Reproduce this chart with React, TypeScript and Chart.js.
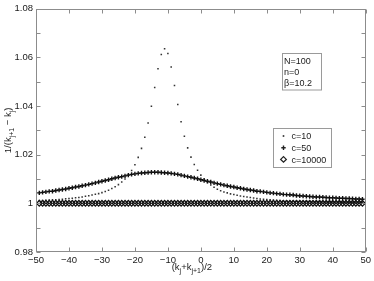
import React, { useEffect, useRef } from 'react';
import { Chart, registerables } from 'chart.js';

Chart.register(...registerables);

// x positions: (k_j + k_{j+1}) / 2
const kMid = [
  -49, -48, -47, -46, -45, -44, -43, -42, -41, -40,
  -39, -38, -37, -36, -35, -34, -33, -32, -31, -30,
  -29, -28, -27, -26, -25, -24, -23, -22, -21, -20,
  -19, -18, -17, -16, -15, -14, -13, -12, -11, -10,
  -9, -8, -7, -6, -5, -4, -3, -2, -1, 0,
  1, 2, 3, 4, 5, 6, 7, 8, 9, 10,
  11, 12, 13, 14, 15, 16, 17, 18, 19, 20,
  21, 22, 23, 24, 25, 26, 27, 28, 29, 30,
  31, 32, 33, 34, 35, 36, 37, 38, 39, 40,
  41, 42, 43, 44, 45, 46, 47, 48, 49,
];

const c10 = [
  1.0012, 1.0012, 1.0013, 1.0014, 1.0015, 1.0015, 1.0016, 1.0017, 1.0019, 1.0020,
  1.0021, 1.0023, 1.0024, 1.0026, 1.0029, 1.0031, 1.0034, 1.0037, 1.0040, 1.0044,
  1.0049, 1.0054, 1.0061, 1.0068, 1.0077, 1.0088, 1.0100, 1.0116, 1.0135, 1.0159,
  1.0189, 1.0226, 1.0272, 1.0330, 1.0399, 1.0476, 1.0553, 1.0612, 1.0635, 1.0616,
  1.0560, 1.0484, 1.0406, 1.0335, 1.0276, 1.0228, 1.0190, 1.0160, 1.0136, 1.0116,
  1.0100, 1.0086, 1.0075, 1.0066, 1.0058, 1.0052, 1.0047, 1.0043, 1.0039, 1.0036,
  1.0033, 1.0030, 1.0028, 1.0026, 1.0024, 1.0022, 1.0020, 1.0018, 1.0017, 1.0016,
  1.0015, 1.0014, 1.0013, 1.0012, 1.0011, 1.0011, 1.0010, 1.0010, 1.0009, 1.0009,
  1.0008, 1.0008, 1.0008, 1.0007, 1.0007, 1.0007, 1.0007, 1.0006, 1.0006, 1.0006,
  1.0006, 1.0006, 1.0005, 1.0005, 1.0005, 1.0005, 1.0005, 1.0005, 1.0004,
];

const c50 = [
  1.0043, 1.0045, 1.0047, 1.0049, 1.0050, 1.0053, 1.0055, 1.0057, 1.0059, 1.0062,
  1.0064, 1.0067, 1.0069, 1.0072, 1.0075, 1.0078, 1.0081, 1.0084, 1.0088, 1.0091,
  1.0094, 1.0097, 1.0101, 1.0104, 1.0107, 1.0110, 1.0113, 1.0116, 1.0119, 1.0121,
  1.0123, 1.0125, 1.0126, 1.0127, 1.0128, 1.0128, 1.0128, 1.0127, 1.0126, 1.0125,
  1.0123, 1.0121, 1.0119, 1.0116, 1.0113, 1.0110, 1.0107, 1.0104, 1.0101, 1.0097,
  1.0094, 1.0091, 1.0088, 1.0084, 1.0081, 1.0078, 1.0075, 1.0072, 1.0069, 1.0067,
  1.0064, 1.0062, 1.0059, 1.0057, 1.0055, 1.0053, 1.0050, 1.0049, 1.0047, 1.0045,
  1.0043, 1.0042, 1.0040, 1.0039, 1.0037, 1.0036, 1.0035, 1.0034, 1.0032, 1.0031,
  1.0030, 1.0029, 1.0028, 1.0027, 1.0026, 1.0026, 1.0025, 1.0024, 1.0023, 1.0023,
  1.0022, 1.0021, 1.0021, 1.0020, 1.0020, 1.0019, 1.0018, 1.0018, 1.0017,
];

const c10000 = [
  1, 1, 1, 1, 1, 1, 1, 1, 1, 1,
  1, 1, 1, 1, 1, 1, 1, 1, 1, 1,
  1, 1, 1, 1, 1, 1, 1, 1, 1, 1,
  1, 1, 1, 1, 1, 1, 1, 1, 1, 1,
  1, 1, 1, 1, 1, 1, 1, 1, 1, 1,
  1, 1, 1, 1, 1, 1, 1, 1, 1, 1,
  1, 1, 1, 1, 1, 1, 1, 1, 1, 1,
  1, 1, 1, 1, 1, 1, 1, 1, 1, 1,
  1, 1, 1, 1, 1, 1, 1, 1, 1, 1,
  1, 1, 1, 1, 1, 1, 1, 1, 1,
];

const seriesNames = ['c=10', 'c=50', 'c=10000'];
const paramLines = ['N=100', 'n=0', 'β=10.2'];

const FAMILY = '"Liberation Sans", Arial, Helvetica, sans-serif';
const TEXT = '#1a1a1a';
const AXIS = '#8c8c8c';

type Part = { t: string; sub?: boolean };

function richWidth(ctx: CanvasRenderingContext2D, parts: Part[], main: string, sub: string) {
  let w = 0;
  for (const p of parts) {
    ctx.font = p.sub ? sub : main;
    w += ctx.measureText(p.t).width;
  }
  return w;
}

function drawRich(ctx: CanvasRenderingContext2D, parts: Part[], x: number, y: number, main: string, sub: string) {
  let cx = x;
  for (const p of parts) {
    ctx.font = p.sub ? sub : main;
    ctx.fillText(p.t, cx, p.sub ? y + 3 : y);
    cx += ctx.measureText(p.t).width;
  }
}

function marker(ctx: CanvasRenderingContext2D, kind: number, x: number, y: number) {
  ctx.save();
  ctx.fillStyle = '#222';
  ctx.strokeStyle = '#222';
  if (kind === 0) {
    ctx.fillRect(x - 0.8, y - 0.8, 1.6, 1.6);
  } else if (kind === 1) {
    ctx.lineWidth = 1.4;
    ctx.beginPath();
    ctx.moveTo(x - 2.2, y);
    ctx.lineTo(x + 2.2, y);
    ctx.moveTo(x, y - 2.2);
    ctx.lineTo(x, y + 2.2);
    ctx.stroke();
  } else {
    ctx.lineWidth = 1.3;
    ctx.beginPath();
    ctx.moveTo(x, y - 2.8);
    ctx.lineTo(x + 2.8, y);
    ctx.lineTo(x, y + 2.8);
    ctx.lineTo(x - 2.8, y);
    ctx.closePath();
    ctx.stroke();
  }
  ctx.restore();
}

const decorPlugin = {
  id: 'decor',
  afterDraw(chart: any) {
    const { ctx, chartArea: a, scales } = chart;
    const xs = scales.x;
    const ys = scales.y;
    ctx.save();
    // frame
    ctx.strokeStyle = AXIS;
    ctx.lineWidth = 1;
    const L = Math.round(a.left) + 0.5;
    const R = Math.round(a.right) - 0.5;
    const T = Math.round(a.top) + 0.5;
    const B = Math.round(a.bottom) - 0.5;
    ctx.strokeRect(L, T, R - L, B - T);
    // inward ticks
    ctx.beginPath();
    const tl = 4;
    for (const t of xs.ticks) {
      const px = Math.round(xs.getPixelForValue(t.value)) + 0.5;
      ctx.moveTo(px, B);
      ctx.lineTo(px, B - tl);
      ctx.moveTo(px, T);
      ctx.lineTo(px, T + tl);
    }
    for (const t of ys.ticks) {
      const py = Math.round(ys.getPixelForValue(t.value)) + 0.5;
      ctx.moveTo(L, py);
      ctx.lineTo(L + tl, py);
      ctx.moveTo(R, py);
      ctx.lineTo(R - tl, py);
    }
    ctx.stroke();

    const mainFont = `9.5px ${FAMILY}`;
    const subFont = `7px ${FAMILY}`;
    ctx.fillStyle = TEXT;
    ctx.textBaseline = 'alphabetic';
    ctx.textAlign = 'left';

    // x title
    const xParts: Part[] = [
      { t: '(k' }, { t: 'j', sub: true }, { t: '+k' }, { t: 'j+1', sub: true }, { t: ')/2' },
    ];
    const xw = richWidth(ctx, xParts, mainFont, subFont);
    const xcx = (a.left + a.right) / 2 - 9;
    drawRich(ctx, xParts, xcx - xw / 2, 270, mainFont, subFont);

    // y title
    const yParts: Part[] = [
      { t: '1/(k' }, { t: 'j+1', sub: true }, { t: ' \u2212 k' }, { t: 'j', sub: true }, { t: ')' },
    ];
    const yw = richWidth(ctx, yParts, mainFont, subFont);
    ctx.save();
    ctx.translate(11, (a.top + a.bottom) / 2);
    ctx.rotate(-Math.PI / 2);
    drawRich(ctx, yParts, -yw / 2, 0, mainFont, subFont);
    ctx.restore();

    // parameter box
    const f9 = `9px ${FAMILY}`;
    ctx.font = f9;
    ctx.strokeStyle = '#9a9a9a';
    ctx.lineWidth = 1;
    ctx.fillStyle = '#fff';
    ctx.fillRect(282.5, 53.5, 39, 36.5);
    ctx.strokeRect(282.5, 53.5, 39, 36.5);
    ctx.fillStyle = TEXT;
    paramLines.forEach((s, i) => {
      ctx.fillText(s, 284, 63.5 + i * 11);
    });

    // series legend
    ctx.fillStyle = '#fff';
    ctx.fillRect(273.5, 128.5, 58, 39);
    ctx.strokeRect(273.5, 128.5, 58, 39);
    ctx.fillStyle = TEXT;
    seriesNames.forEach((s, i) => {
      const y = 136 + i * 11.7;
      marker(ctx, i, 283.5, y);
      ctx.font = f9;
      ctx.fillStyle = TEXT;
      ctx.fillText(s, 291.5, y + 3.3);
    });
    ctx.restore();
  },
};

export default function App() {
  const ref = useRef<HTMLCanvasElement | null>(null);

  useEffect(() => {
    if (!ref.current) return;
    const mk = (ys: number[]) => kMid.map((x, i) => ({ x, y: ys[i] }));
    const chart = new Chart(ref.current, {
      type: 'scatter',
      data: {
        datasets: [
          {
            label: seriesNames[2],
            data: mk(c10000),
            pointStyle: 'rectRot',
            pointRadius: 2.8,
            borderWidth: 1.3,
            borderColor: '#111',
            backgroundColor: 'rgba(0,0,0,0)',
          },
          {
            label: seriesNames[1],
            data: mk(c50),
            pointStyle: 'cross',
            pointRadius: 2.2,
            borderWidth: 1.4,
            borderColor: '#111',
            backgroundColor: '#111',
          },
          {
            label: seriesNames[0],
            data: mk(c10),
            pointStyle: 'rect',
            pointRadius: 1.1,
            borderWidth: 0,
            borderColor: '#333',
            backgroundColor: '#333',
          },
        ],
      },
      options: {
        animation: false,
        responsive: false,
        devicePixelRatio: 1,
        layout: { padding: { left: 0, right: 5, top: 5, bottom: 0 } },
        plugins: {
          legend: { display: false },
          tooltip: { enabled: false },
          title: { display: false },
        },
        scales: {
          x: {
            type: 'linear',
            min: -50,
            max: 50,
            afterFit: (s: any) => { s.height = 29; },
            grid: { display: false, drawTicks: false },
            border: { display: false },
            ticks: {
              stepSize: 10,
              autoSkip: false,
              maxRotation: 0,
              padding: 3,
              color: TEXT,
              font: { family: FAMILY, size: 9.5 },
              callback: (v: any) => String(v).replace('-', '\u2212'),
            },
          },
          y: {
            type: 'linear',
            min: 0.98,
            max: 1.08,
            afterFit: (s: any) => { s.width = 36; },
            grid: { display: false, drawTicks: false },
            border: { display: false },
            ticks: {
              stepSize: 0.01,
              autoSkip: false,
              padding: 3,
              color: TEXT,
              font: { family: FAMILY, size: 9.5 },
              callback: (v: any, i: number) => (i % 2 === 0 ? String(Math.round(Number(v) * 100) / 100) : ''),
            },
          },
        },
      },
      plugins: [decorPlugin],
    });
    return () => chart.destroy();
  }, []);

  return (
    <div style={{ position: 'fixed', left: 0, top: 0, width: 374, height: 281, background: '#fff' }}>
      <canvas ref={ref} width={374} height={281} style={{ display: 'block', width: 374, height: 281 }} />
    </div>
  );
}
